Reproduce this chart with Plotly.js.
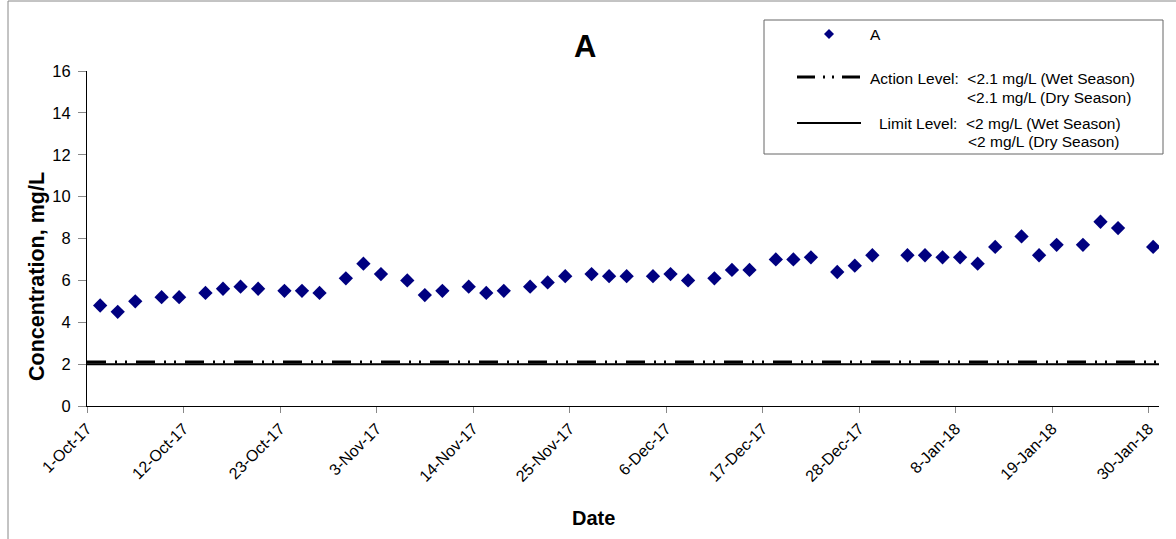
<!DOCTYPE html>
<html><head><meta charset="utf-8">
<script src="https://cdn.plot.ly/plotly-3.0.1.min.js"></script>
<style>html,body{margin:0;padding:0;background:#fff}#c{width:1176px;height:539px}</style>
</head><body><div id="c"></div><script>
const dates = ["2017-10-02","2017-10-04","2017-10-06","2017-10-09","2017-10-11","2017-10-14","2017-10-16","2017-10-18","2017-10-20","2017-10-23","2017-10-25","2017-10-27","2017-10-30",
"2017-11-01","2017-11-03","2017-11-06","2017-11-08","2017-11-10","2017-11-13","2017-11-15","2017-11-17","2017-11-20","2017-11-22","2017-11-24","2017-11-27","2017-11-29",
"2017-12-01","2017-12-04","2017-12-06","2017-12-08","2017-12-11","2017-12-13","2017-12-15","2017-12-18","2017-12-20","2017-12-22","2017-12-25","2017-12-27","2017-12-29",
"2018-01-02","2018-01-04","2018-01-06","2018-01-08","2018-01-10","2018-01-12","2018-01-15","2018-01-17","2018-01-19","2018-01-22","2018-01-24","2018-01-26","2018-01-30"];
const values = [4.8,4.5,5.0,5.2,5.2,5.4,5.6,5.7,5.6,5.5,5.5,5.4,6.1,6.8,6.3,6.0,5.3,5.5,5.7,
5.4,5.5,5.7,5.9,6.2,6.3,6.2,6.2,6.2,6.3,6.0,6.1,6.5,6.5,7.0,7.0,7.1,6.4,6.7,
7.2,7.2,7.2,7.1,7.1,6.8,7.6,8.1,7.2,7.7,7.7,8.8,8.5,7.6];
const actionLevel = 2.1;
const limitLevel = 2;
const xRange = ["2017-10-01", "2018-01-31 04:00"];
const chartTitle = "A";
const xTitle = "Date";
const yTitle = "Concentration, mg/L";
const legendLabels = {
  series: "A",
  action1: "Action Level:  <2.1 mg/L (Wet Season)",
  action2: "<2.1 mg/L (Dry Season)",
  limit1: "Limit Level:  <2 mg/L (Wet Season)",
  limit2: "<2 mg/L (Dry Season)"
};

const xs = dates.map(d => d + " 12:00");
const FONT = "Liberation Sans, Arial, sans-serif";

const traces = [
  {x: xRange, y: [limitLevel, limitLevel], mode: "lines", line: {color: "#000", width: 2}, hoverinfo: "skip", showlegend: false},
  {x: xRange, y: [actionLevel, actionLevel], mode: "lines", line: {color: "#000", width: 3, dash: "19px,9px,2px,8px,2px,9px"}, hoverinfo: "skip", showlegend: false},
  {x: xs, y: values, mode: "markers", marker: {symbol: "diamond", size: 11, color: "#000080"}, showlegend: false}
];

const W = 1176, H = 539, ml = 87, mr = 17, mt = 71, mb = 133;
const pw = W - ml - mr, ph = H - mt - mb;
const px = x => (x - ml) / pw;
const py = y => (H - mb - y) / ph;

const shapes = [
  {type: "rect", xref: "paper", yref: "paper", x0: px(8), x1: px(1190), y0: py(560), y1: py(1), line: {color: "#888", width: 1}},
  {type: "rect", xref: "paper", yref: "paper", x0: px(764), x1: px(1163), y0: py(154), y1: py(20), line: {color: "#666", width: 1}, fillcolor: "#fff"},
  {type: "path", xref: "paper", yref: "paper",
   path: `M ${px(829)} ${py(29)} L ${px(834)} ${py(34)} L ${px(829)} ${py(39)} L ${px(824)} ${py(34)} Z`,
   fillcolor: "#000080", line: {color: "#000080", width: 0}},
  {type: "line", xref: "paper", yref: "paper", x0: px(797), x1: px(861), y0: py(77), y1: py(77), line: {color: "#000", width: 3, dash: "18px,8px,2px,7px,2px,8px"}},
  {type: "line", xref: "paper", yref: "paper", x0: px(797), x1: px(861), y0: py(123), y1: py(123), line: {color: "#000", width: 2}}
];

const ann = (t, x, y, opts = {}) => Object.assign({text: t, xref: "paper", yref: "paper", x: px(x), y: py(y), xanchor: "left", yanchor: "middle", showarrow: false, font: {family: FONT, size: 15.5, color: "#000"}}, opts);
const annotations = [
  ann(legendLabels.series, 868, 34),
  ann(legendLabels.action1, 868, 78),
  ann(legendLabels.action2, 965, 97),
  ann(legendLabels.limit1, 877, 123),
  ann(legendLabels.limit2, 966, 141),
  ann("<b>" + chartTitle + "</b>", 585, 47, {xanchor: "center", font: {family: FONT, size: 31, color: "#000"}}),
  ann("<b>" + xTitle + "</b>", 593, 518, {xanchor: "center", font: {family: FONT, size: 20, color: "#000"}}),
  ann("<b>" + yTitle + "</b>", 37, 277, {xanchor: "center", textangle: -90, font: {family: FONT, size: 21.5, color: "#000"}})
];

const layout = {
  width: W, height: H,
  margin: {l: ml, r: mr, t: mt, b: mb, pad: 0},
  paper_bgcolor: "#fff", plot_bgcolor: "#fff",
  font: {family: FONT, size: 15.5, color: "#000"},
  xaxis: {
    type: "date", range: xRange, tick0: "2017-10-01", dtick: 11 * 86400000,
    tickformat: "%-d-%b-%y", tickangle: -45, ticks: "outside", ticklen: 6, tickcolor: "#888",
    showline: true, linecolor: "#000", linewidth: 1, showgrid: false, zeroline: false,
    tickfont: {family: FONT, size: 16, color: "#000"}
  },
  yaxis: {
    range: [0, 16], dtick: 2, ticks: "outside", ticklen: 8, tickcolor: "#888",
    ticklabelstandoff: 4,
    showline: true, linecolor: "#000", linewidth: 1, showgrid: false, zeroline: false,
    tickfont: {family: FONT, size: 16.5, color: "#000"}
  },
  shapes: shapes,
  annotations: annotations,
  showlegend: false
};

Plotly.newPlot("c", traces, layout, {staticPlot: true});
</script></body></html>
